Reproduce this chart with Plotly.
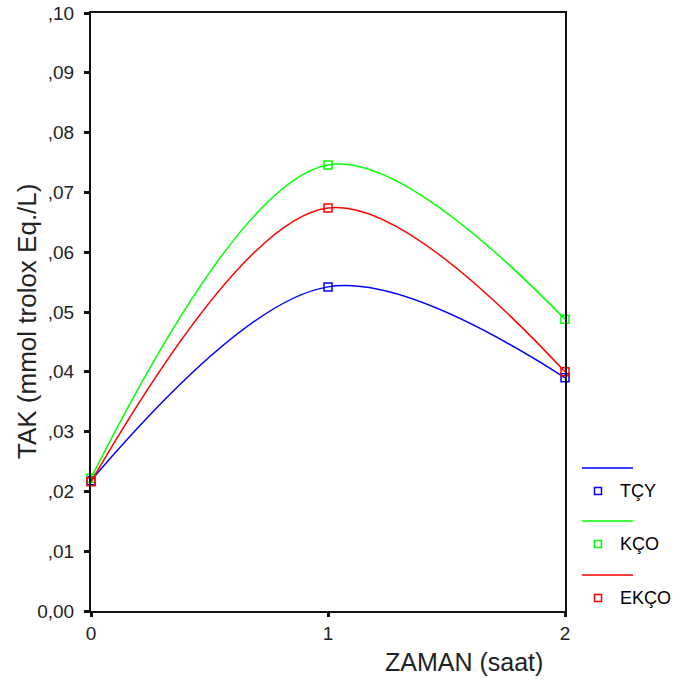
import plotly.graph_objects as go

# Data
times = [0, 1, 2]
series_names = ["TÇY", "KÇO", "EKÇO"]
tcy = [0.0218, 0.0542, 0.0390]
kco = [0.0222, 0.0746, 0.0488]
ekco = [0.0216, 0.0674, 0.0400]
series_values = [tcy, kco, ekco]
colors = ["#0000FF", "#00FF00", "#FF0000"]
y_tickvals = [0.00, 0.01, 0.02, 0.03, 0.04, 0.05, 0.06, 0.07, 0.08, 0.09, 0.10]
y_ticktext = ["0,00", ",01", ",02", ",03", ",04", ",05", ",06", ",07", ",08", ",09", ",10"]
x_tickvals = [0, 1, 2]
x_ticktext = ["0", "1", "2"]

FONT = "Liberation Sans, Arial, sans-serif"

fig = go.Figure()
for name, vals, col in zip(series_names, series_values, colors):
    fig.add_trace(go.Scatter(
        x=times, y=vals, name=name, mode="lines+markers",
        line=dict(color=col, width=1.5, shape="spline", smoothing=1.0),
        marker=dict(symbol="square-open", size=8, color=col, line=dict(width=1.5, color=col)),
        cliponaxis=False, showlegend=False,
    ))

# Manual legend (line above, marker below, label to the right)
W, H = 675, 686
L, R, T, B = 91, 110, 13, 75
pw, ph = W - L - R, H - T - B
def px(xp):
    return (xp - L) / pw
def py(yp):
    return (H - B - yp) / ph

line_ys = [468, 521, 575]
for i, (name, col) in enumerate(zip(series_names, colors)):
    ly = line_ys[i]
    fig.add_shape(type="line", xref="paper", yref="paper",
                  x0=px(582), x1=px(633), y0=py(ly), y1=py(ly),
                  line=dict(color=col, width=1.5))
    my = ly + 23
    fig.add_shape(type="rect", xref="paper", yref="paper",
                  x0=px(594.5), x1=px(601.5), y0=py(my - 3.5), y1=py(my + 3.5),
                  line=dict(color=col, width=1.5))
    fig.add_annotation(xref="paper", yref="paper", x=px(618), y=py(my),
                       text=name, showarrow=False, xanchor="left", yanchor="middle",
                       font=dict(family=FONT, size=18, color="#000000"))

# Axis titles
fig.add_annotation(xref="paper", yref="paper", x=px(464), y=py(662),
                   text="ZAMAN (saat)", showarrow=False, xanchor="center", yanchor="middle",
                   font=dict(family=FONT, size=25, color="#222222"))
fig.add_annotation(xref="paper", yref="paper", x=px(27), y=py(322),
                   text="TAK (mmol trolox Eq./L)", showarrow=False, textangle=-90,
                   xanchor="center", yanchor="middle",
                   font=dict(family=FONT, size=26, color="#222222"))

fig.update_layout(
    width=W, height=H,
    margin=dict(l=L, r=R, t=T, b=B, pad=0, autoexpand=False),
    paper_bgcolor="white", plot_bgcolor="white",
    font=dict(family=FONT, color="#222222"),
)
fig.update_xaxes(
    range=[0, 2], tickvals=x_tickvals, ticktext=x_ticktext, automargin=False,
    showgrid=False, zeroline=False, showline=True, linecolor="#111111", linewidth=2,
    mirror=True, ticks="outside", ticklen=4, tickwidth=3, tickcolor="#111111",
    tickfont=dict(family=FONT, size=19, color="#222222"),
)
fig.update_yaxes(
    range=[0, 0.10], tickvals=y_tickvals, ticktext=y_ticktext, automargin=False,
    showgrid=False, zeroline=False, showline=True, linecolor="#111111", linewidth=2,
    mirror=True, ticks="outside", ticklen=5, tickwidth=3, tickcolor="#111111",
    ticklabelstandoff=6,
    tickfont=dict(family=FONT, size=19, color="#222222"),
)

fig.write_html("out.html")
